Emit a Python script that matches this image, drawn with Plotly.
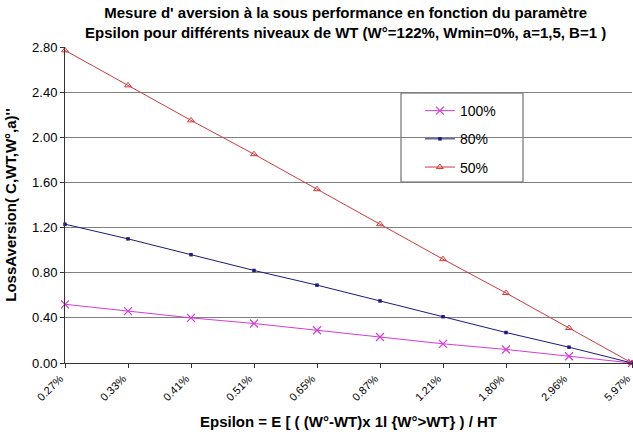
import plotly.graph_objects as go

epsilon_labels = ["0.27%", "0.33%", "0.41%", "0.51%", "0.65%", "0.87%", "1.21%", "1.80%", "2.96%", "5.97%"]
series_names = ["100%", "80%", "50%"]
wt_100 = [0.52, 0.46, 0.40, 0.35, 0.29, 0.23, 0.17, 0.12, 0.06, 0.00]
wt_80 = [1.23, 1.10, 0.96, 0.82, 0.69, 0.55, 0.41, 0.27, 0.14, 0.00]
wt_50 = [2.77, 2.46, 2.15, 1.85, 1.54, 1.23, 0.92, 0.62, 0.31, 0.00]

FONT = "Liberation Sans, Arial, sans-serif"

fig = go.Figure()
styles = [
    (wt_100, "#D63CD6", dict(symbol="x-thin", size=8, line=dict(width=1.2, color="#D63CD6"))),
    (wt_80, "#1A1A80", dict(symbol="square", size=3.5, color="#1A1A80")),
    (wt_50, "#D03A3A", dict(symbol="triangle-up-open", size=6, line=dict(width=1, color="#D03A3A"))),
]
for i, (vals, col, mk) in enumerate(styles):
    fig.add_trace(go.Scatter(
        x=epsilon_labels, y=vals, name=series_names[i], mode="lines+markers",
        line=dict(color=col, width=1), marker=mk, cliponaxis=False,
        legendgroup="g%d" % i,
    ))

fig.update_layout(
    width=633, height=437,
    margin=dict(l=65, r=1, t=47, b=74, autoexpand=False),
    paper_bgcolor="white", plot_bgcolor="white",
    font=dict(family=FONT, size=12, color="black"),
    title=dict(
        text="<b>Mesure d' aversion à la sous performance en fonction du paramètre<br>Epsilon pour différents niveaux de WT (W°=122%, Wmin=0%, a=1,5, B=1 )</b>",
        x=0.495, xref="paper", xanchor="center", y=0.958, yref="container", yanchor="middle",
        font=dict(family=FONT, size=15, color="black"),
    ),
    showlegend=True,
    legend=dict(
        x=0.626, y=0.848, xanchor="left", yanchor="top",
        bgcolor="rgba(0,0,0,0)", borderwidth=0,
        font=dict(family=FONT, size=14, color="black"),
        traceorder="grouped", tracegroupgap=7, itemwidth=30,
    ),
    shapes=[dict(
        type="rect", xref="paper", yref="paper",
        x0=(401 - 65) / 567, x1=(523 - 65) / 567,
        y0=(363 - 182) / 316, y1=(363 - 93) / 316,
        line=dict(color="#555555", width=1), fillcolor="white", layer="below",
    )],
)

fig.update_xaxes(
    type="category", range=[0, len(epsilon_labels) - 1],
    tickangle=-45, ticks="outside", ticklen=4, tickcolor="#333333",
    showline=True, linecolor="#333333", linewidth=1,
    showgrid=False, tickfont=dict(size=11), automargin=False, ticklabelshift=-5,
    title=dict(text="<b>Epsilon = E [ ( (W°-WT)x 1l {W°>WT} ) / HT</b>", font=dict(size=15), standoff=14),
)
fig.update_yaxes(
    range=[0, 2.8], dtick=0.4, tickformat=".2f",
    ticks="outside", ticklen=4, tickcolor="#333333",
    showline=True, linecolor="#333333", linewidth=1,
    showgrid=True, gridcolor="#808080", gridwidth=1,
    zeroline=False, tickfont=dict(size=13), automargin=False,
    title=dict(text="<b>LossAversion( C,WT,W°,a)''</b>", font=dict(size=15), standoff=11),
)

fig.write_html(
    "out.html",
    config={"displayModeBar": False},
    post_script="document.body.style.margin='0';document.body.style.padding='0';",
)
